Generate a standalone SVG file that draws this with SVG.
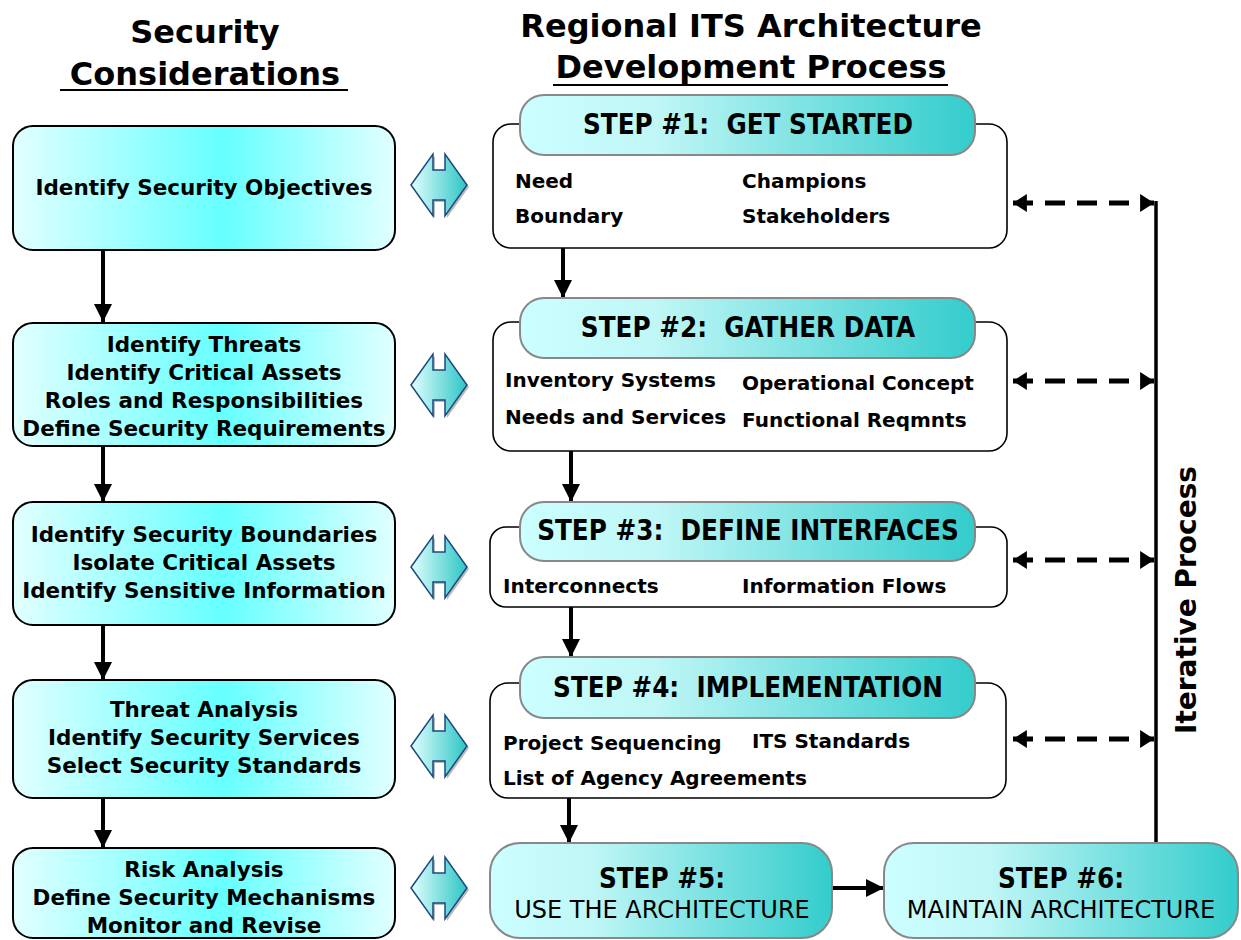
<svg xmlns="http://www.w3.org/2000/svg" xmlns:xlink="http://www.w3.org/1999/xlink" width="1241" height="940" viewBox="0 0 1241 940">
<style>
.title{font-family:"DejaVu Sans",sans-serif;font-weight:bold;font-size:32px;fill:#000;text-anchor:middle}
.lbox{fill:url(#gLeft);stroke:#000;stroke-width:2}
.ltxt{font-family:"DejaVu Sans",sans-serif;font-weight:bold;font-size:21.5px;fill:#000;text-anchor:middle}
.body{fill:#fff;stroke:#000;stroke-width:1.6}
.pill{fill:url(#gStep);stroke:#888;stroke-width:2}
.htxt{font-family:"DejaVu Sans Condensed","DejaVu Sans",sans-serif;font-weight:bold;font-size:27.5px;fill:#000;text-anchor:middle;white-space:pre}
.btxt{font-family:"DejaVu Sans",sans-serif;font-weight:bold;font-size:20px;fill:#000}
.ntxt{font-family:"DejaVu Sans",sans-serif;font-size:24px;fill:#000;text-anchor:middle}
.arr{stroke:#000;stroke-width:4;fill:none}
.dash{stroke:#000;stroke-width:5;fill:none;stroke-dasharray:20 12}
.icon{fill:url(#gIcon);stroke:#1a4a80;stroke-width:1.5}
.shadow{fill:#bbb}
</style>
<defs>
<linearGradient id="gLeft" x1="0" y1="0" x2="1" y2="0">
<stop offset="0" stop-color="#e2ffff"/>
<stop offset="0.55" stop-color="#66ffff"/>
<stop offset="1" stop-color="#e2ffff"/>
</linearGradient>
<linearGradient id="gStep" x1="0" y1="0" x2="1" y2="0">
<stop offset="0" stop-color="#ccffff"/>
<stop offset="0.3" stop-color="#c0f6f6"/>
<stop offset="1" stop-color="#33cccc"/>
</linearGradient>
<linearGradient id="gIcon" x1="0" y1="0" x2="1" y2="0">
<stop offset="0" stop-color="#e0ffff"/>
<stop offset="1" stop-color="#2ec4c4"/>
</linearGradient>
<path id="dbl" d="M-28,0 L-6,-31 L-6,-15 L6,-15 L6,-31 L28,0 L6,31 L6,15 L-6,15 L-6,31 Z"/>
<marker id="ah" viewBox="0 0 10 10" refX="10" refY="5" markerWidth="4.5" markerHeight="4.5" orient="auto" markerUnits="strokeWidth">
<path d="M0,0 L10,5 L0,10 Z" fill="#000"/>
</marker>
<marker id="dh" viewBox="0 0 10 13" refX="10" refY="6.5" markerWidth="2.8" markerHeight="3.6" orient="auto-start-reverse" markerUnits="strokeWidth">
<path d="M0,0 L10,6.5 L0,13 Z" fill="#000"/>
</marker>
</defs>

<g id="titles">
<text class="title" x="205" y="43">Security</text>
<text class="title" x="205" y="85">Considerations</text>
<line x1="60" y1="90" x2="348" y2="90" stroke="#000" stroke-width="2"/>
<text class="title" x="751" y="37" font-size="31">Regional ITS Architecture</text>
<text class="title" x="751" y="78" font-size="31">Development Process</text>
<line x1="553" y1="85" x2="948" y2="85" stroke="#000" stroke-width="2"/>
</g>

<g id="connectors">
<line class="arr" x1="103" y1="250" x2="103" y2="322" marker-end="url(#ah)"/>
<line class="arr" x1="103" y1="446" x2="103" y2="502" marker-end="url(#ah)"/>
<line class="arr" x1="103" y1="625" x2="103" y2="680" marker-end="url(#ah)"/>
<line class="arr" x1="103" y1="798" x2="103" y2="848" marker-end="url(#ah)"/>
<line class="arr" x1="563" y1="248" x2="563" y2="298" marker-end="url(#ah)"/>
<line class="arr" x1="571" y1="451" x2="571" y2="502" marker-end="url(#ah)"/>
<line class="arr" x1="571" y1="607" x2="571" y2="657" marker-end="url(#ah)"/>
<line class="arr" x1="569" y1="798" x2="569" y2="843" marker-end="url(#ah)"/>
<line class="arr" x1="832" y1="888" x2="884" y2="888" marker-end="url(#ah)"/>
<line x1="1156" y1="845" x2="1156" y2="201" stroke="#000" stroke-width="3.5"/>
<line class="dash" x1="1013" y1="203" x2="1154" y2="203" marker-start="url(#dh)" marker-end="url(#dh)"/>
<line class="dash" x1="1013" y1="381" x2="1154" y2="381" marker-start="url(#dh)" marker-end="url(#dh)"/>
<line class="dash" x1="1013" y1="560" x2="1154" y2="560" marker-start="url(#dh)" marker-end="url(#dh)"/>
<line class="dash" x1="1013" y1="739" x2="1154" y2="739" marker-start="url(#dh)" marker-end="url(#dh)"/>
<text transform="translate(1196,600) rotate(-90)" font-family="DejaVu Sans, sans-serif" font-weight="bold" font-size="28" text-anchor="middle">Iterative Process</text>
</g>

<g id="sec1">
<rect class="lbox" x="13" y="126" width="382" height="124" rx="20"/>
<text class="ltxt" x="204" y="195">Identify Security Objectives</text>
</g>
<g id="sec2">
<rect class="lbox" x="13" y="323" width="382" height="123" rx="20"/>
<text class="ltxt" x="204" y="352">Identify Threats</text>
<text class="ltxt" x="204" y="380">Identify Critical Assets</text>
<text class="ltxt" x="204" y="408">Roles and Responsibilities</text>
<text class="ltxt" x="204" y="436">Define Security Requirements</text>
</g>
<g id="sec3">
<rect class="lbox" x="13" y="502" width="382" height="123" rx="20"/>
<text class="ltxt" x="204" y="542">Identify Security Boundaries</text>
<text class="ltxt" x="204" y="570">Isolate Critical Assets</text>
<text class="ltxt" x="204" y="598">Identify Sensitive Information</text>
</g>
<g id="sec4">
<rect class="lbox" x="13" y="680" width="382" height="118" rx="20"/>
<text class="ltxt" x="204" y="717">Threat Analysis</text>
<text class="ltxt" x="204" y="745">Identify Security Services</text>
<text class="ltxt" x="204" y="773">Select Security Standards</text>
</g>
<g id="sec5">
<rect class="lbox" x="13" y="848" width="382" height="90" rx="20"/>
<text class="ltxt" x="204" y="877">Risk Analysis</text>
<text class="ltxt" x="204" y="905">Define Security Mechanisms</text>
<text class="ltxt" x="204" y="933">Monitor and Revise</text>
</g>

<g id="icons">
<use href="#dbl" class="shadow" x="441" y="187"/>
<use href="#dbl" class="icon" x="439" y="185"/>
<use href="#dbl" class="shadow" x="441" y="387"/>
<use href="#dbl" class="icon" x="439" y="385"/>
<use href="#dbl" class="shadow" x="441" y="569"/>
<use href="#dbl" class="icon" x="439" y="567"/>
<use href="#dbl" class="shadow" x="441" y="748"/>
<use href="#dbl" class="icon" x="439" y="746"/>
<use href="#dbl" class="shadow" x="441" y="890"/>
<use href="#dbl" class="icon" x="439" y="888"/>
</g>

<g id="step1">
<rect class="body" x="493" y="124" width="514" height="124" rx="18"/>
<rect class="pill" x="520" y="95" width="455" height="60" rx="24"/>
<text class="htxt" x="748" y="134">STEP #1:  GET STARTED</text>
<text class="btxt" x="515" y="188">Need</text>
<text class="btxt" x="742" y="188">Champions</text>
<text class="btxt" x="515" y="223">Boundary</text>
<text class="btxt" x="742" y="223">Stakeholders</text>
</g>
<g id="step2">
<rect class="body" x="493" y="322" width="514" height="129" rx="18"/>
<rect class="pill" x="520" y="298" width="455" height="60" rx="24"/>
<text class="htxt" x="748" y="337">STEP #2:  GATHER DATA</text>
<text class="btxt" x="505" y="387">Inventory Systems</text>
<text class="btxt" x="505" y="424">Needs and Services</text>
<text class="btxt" x="742" y="390">Operational Concept</text>
<text class="btxt" x="742" y="427">Functional Reqmnts</text>
</g>
<g id="step3">
<rect class="body" x="490" y="527" width="517" height="80" rx="16"/>
<rect class="pill" x="520" y="502" width="455" height="59" rx="24"/>
<text class="htxt" x="748" y="540">STEP #3:  DEFINE INTERFACES</text>
<text class="btxt" x="503" y="593">Interconnects</text>
<text class="btxt" x="742" y="593">Information Flows</text>
</g>
<g id="step4">
<rect class="body" x="490" y="683" width="516" height="115" rx="18"/>
<rect class="pill" x="520" y="657" width="455" height="61" rx="24"/>
<text class="htxt" x="748" y="697">STEP #4:  IMPLEMENTATION</text>
<text class="btxt" x="503" y="750">Project Sequencing</text>
<text class="btxt" x="752" y="748">ITS Standards</text>
<text class="btxt" x="503" y="785">List of Agency Agreements</text>
</g>
<g id="step5">
<rect class="pill" x="490" y="843" width="342" height="95" rx="30"/>
<text class="htxt" x="662" y="888">STEP #5:</text>
<text class="ntxt" x="662" y="918">USE THE ARCHITECTURE</text>
</g>
<g id="step6">
<rect class="pill" x="884" y="843" width="354" height="95" rx="30"/>
<text class="htxt" x="1061" y="888">STEP #6:</text>
<text class="ntxt" x="1061" y="918">MAINTAIN ARCHITECTURE</text>
</g>
</svg>
